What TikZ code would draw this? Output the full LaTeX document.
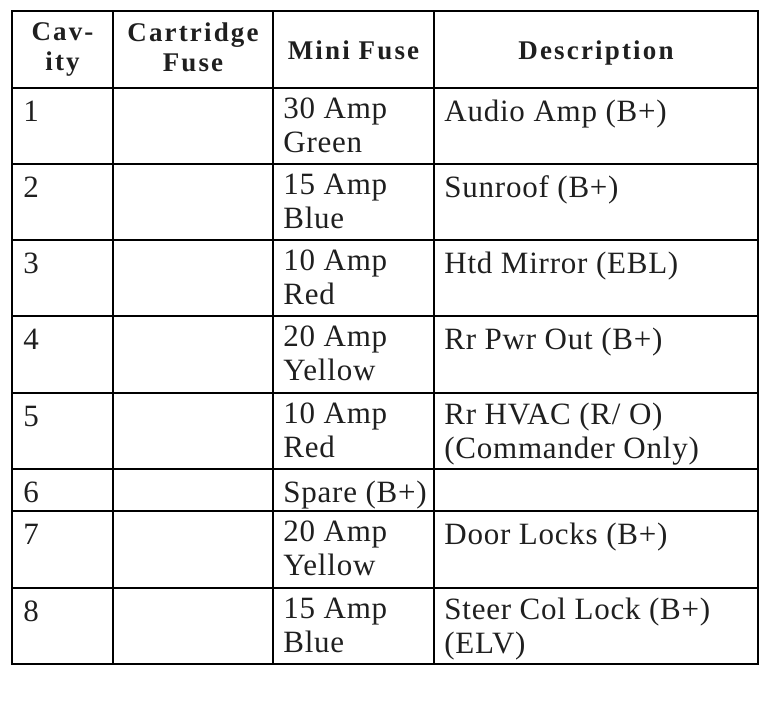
\documentclass[tikz,border=0pt]{standalone}
\usepackage{fontspec}
\setmainfont{Liberation Serif}[LetterSpace=2.5]
\newfontfamily\headfont{Liberation Serif}[LetterSpace=8]
\begin{document}
\begin{tikzpicture}[x=0.5pt, y=-0.5pt,
    cell/.style={anchor=north west, inner sep=0pt, align=left, text=black!88,
      font=\fontsize{15.5}{17}\selectfont, execute at begin node=\strut},
    head/.style={anchor=north, inner sep=0pt, align=center, text=black!88,
      font=\fontsize{13.5}{15}\headfont\bfseries, execute at begin node=\strut},
    rule/.style={line width=0.65pt},
    frame/.style={line width=1pt}]
    \useasboundingbox (0,0) rectangle (780,711);
    % grid
    \foreach \y in {164,240,316,393,469,511,588}
      \draw[rule] (12,\y) -- (758,\y);
    \foreach \x in {113,273,434}
      \draw[rule] (\x,11) -- (\x,664);
    \draw[frame] (12,88) -- (758,88);
    \draw[frame] (12,11) rectangle (758,664);
    % header
    \node[head] (hcav) at (62.5,22) {Cav-\\ity};
    \node[head] (hcart) at (193,22) {Cartridge\\Fuse};
    \node[head] (hmini) at (353.5,38) {Mini Fuse};
    \node[head] (hdesc) at (596,38) {Description};
    % rows, placed from the top rule of each row
    \foreach \n/\t/\fuse/\desc in {
        1/88/{30 Amp\\Green}/{Audio Amp (B+)},
        2/164/{15 Amp\\Blue}/{Sunroof (B+)},
        3/240/{10 Amp\\Red}/{Htd Mirror (EBL)},
        4/316/{20 Amp\\Yellow}/{Rr Pwr Out (B+)},
        5/393/{10 Amp\\Red}/{Rr HVAC (R/ O)\\(Commander Only)},
        6/469/{Spare (B+)}/{},
        7/511/{20 Amp\\Yellow}/{Door Locks (B+)},
        8/588/{15 Amp\\Blue}/{Steer Col Lock (B+)\\(ELV)}} {
      \node[cell] (cav\n) at (23,\t+9.2) {\n};
      \node[cell] (mini\n) at (283,\t+9.2) {\fuse};
      \node[cell] (desc\n) at (444,\t+9.2) {\desc};
    }
\end{tikzpicture}
\end{document}
